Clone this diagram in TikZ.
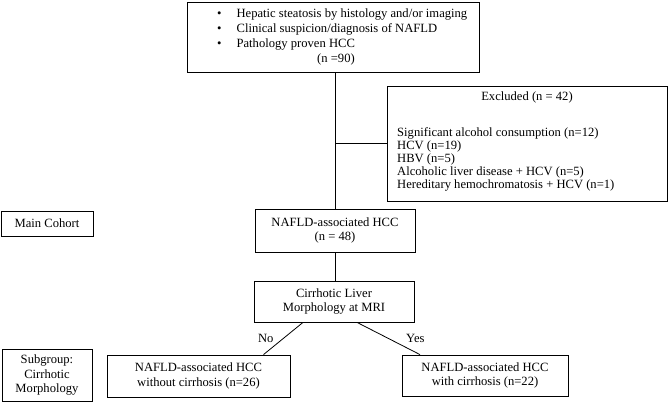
\documentclass[tikz,border=0pt]{standalone}
\usepackage{fontspec}
\setmainfont{Liberation Serif}
\usetikzlibrary{positioning}
\tikzset{
  box/.style={draw, line width=0.8pt, align=center, inner sep=2pt, font=\fontsize{12.6}{14.5}\selectfont},
  txt/.style={align=left, inner sep=0pt, font=\fontsize{12.6}{13.2}\selectfont},
  link/.style={line width=0.8pt},
}
\begin{document}
\begin{tikzpicture}[x=1pt, y=-1pt]
\useasboundingbox (0,0) rectangle (669,403);
% screening criteria
\node[box, minimum width=292pt, minimum height=70pt] (screen) at (333,37) {};
\node[txt, anchor=west, font=\fontsize{12.6}{15}\selectfont] (crit) at (217,36.5) {\textbullet\hspace{15pt}Hepatic steatosis by histology and/or imaging\\
\textbullet\hspace{15pt}Clinical suspicion/diagnosis of NAFLD\\
\textbullet\hspace{15pt}Pathology proven HCC\\
\hspace*{100pt}(n =90)};
% exclusions
\node[box, minimum width=280pt, minimum height=115pt] (excl) at (527,143.5) {};
\node[txt] (exclhead) at (527,97) {Excluded (n = 42)};
\node[txt, anchor=west] (excllist) at (397,159.5) {Significant alcohol consumption (n=12)\\
HCV (n=19)\\
HBV (n=5)\\
Alcoholic liver disease + HCV (n=5)\\
Hereditary hemochromatosis + HCV (n=1)};
% main cohort
\node[box, minimum width=160pt, minimum height=43pt] (nafld) at (335,230.5) {NAFLD-associated HCC\\(n = 48)};
\node[box, minimum width=92pt, minimum height=25pt] (cohort) at (47,223.5) {Main Cohort};
\node[box, minimum width=160pt, minimum height=41pt] (cirr) at (334,301.5) {Cirrhotic Liver\\Morphology at MRI};
% subgroups
\node[box, minimum width=183pt, minimum height=42pt] (nocirr) at (198.5,376) {NAFLD-associated HCC\\without cirrhosis (n=26)};
\node[box, minimum width=166pt, minimum height=41pt] (yescirr) at (485,375.5) {NAFLD-associated HCC\\with cirrhosis (n=22)};
\node[box, minimum width=90pt, minimum height=52pt] (subgroup) at (47,375) {Subgroup:\\Cirrhotic\\Morphology};
% connectors
\draw[link] (nafld.north |- screen.south) -- (nafld.north);
\draw[link] (excl.west -| nafld.north) -- (excl.west);
\draw[link] (nafld.south) -- (nafld.south |- cirr.north);
\draw[link] ([xshift=-31pt]cirr.south) -- ([xshift=65pt]nocirr.north)
  node[midway, left=6pt, font=\fontsize{12.6}{14}\selectfont] (nolbl) {No};
\draw[link] ([xshift=23pt]cirr.south) -- ([xshift=-65pt]yescirr.north)
  node[midway, right=14pt, font=\fontsize{12.6}{14}\selectfont] (yeslbl) {Yes};
\end{tikzpicture}
\end{document}
